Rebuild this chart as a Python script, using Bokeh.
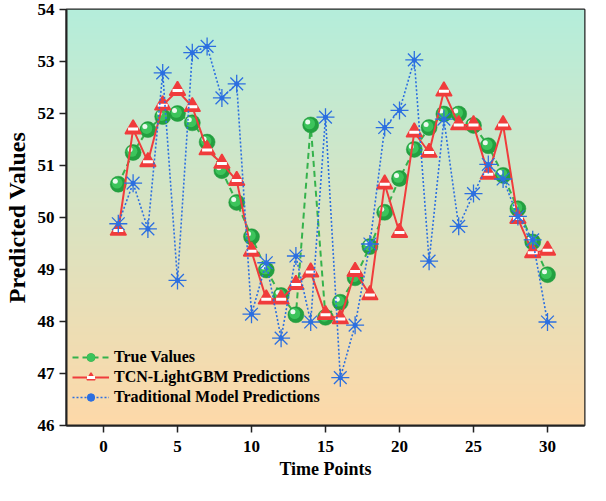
import numpy as np
from bokeh.plotting import figure
from bokeh.models import Range1d, Legend, LegendItem, FixedTicker
from bokeh.embed import file_html
from bokeh.resources import INLINE

# ---------------- data ----------------
time_points = list(range(1, 31))
true_values = [50.64, 51.25, 51.69, 51.94, 52.00, 51.82, 51.45, 50.90, 50.29, 49.63,
               48.99, 48.50, 48.13, 51.78, 48.08, 48.37, 48.84, 49.44, 50.10, 50.75,
               51.31, 51.73, 51.99, 51.99, 51.77, 51.38, 50.81, 50.17, 49.53, 48.90]
tcn_lightgbm = [49.75, 51.70, 51.07, 52.16, 52.44, 52.13, 51.30, 51.04, 50.71, 49.35,
                48.43, 48.43, 48.71, 48.95, 48.13, 48.05, 48.96, 48.51, 50.64, 49.71,
                51.64, 51.25, 52.43, 51.78, 51.78, 50.83, 51.78, 49.98, 49.32, 49.37]
traditional = [49.88, 50.66, 49.78, 52.78, 48.79, 53.17, 53.29, 52.30, 52.57, 48.14,
               49.13, 47.68, 49.26, 47.99, 51.93, 46.92, 47.93, 49.49, 51.73, 52.06,
               53.03, 49.16, 51.89, 49.83, 50.46, 51.02, 50.74, 50.02, 49.57, 47.99]
x_ticks = [0, 5, 10, 15, 20, 25, 30]
y_ticks = [46, 47, 48, 49, 50, 51, 52, 53, 54]

# ---------------- layout ----------------
X0, X1 = -2.5, 32.5
Y0, Y1 = 46, 54
FW, FH = 518, 416
px_x = FW / (X1 - X0)
px_y = FH / (Y1 - Y0)

FONT = "Liberation Serif"

p = figure(frame_width=FW, frame_height=FH,
           x_range=Range1d(X0, X1), y_range=Range1d(Y0, Y1),
           output_backend="svg", toolbar_location=None,
           min_border_left=64, min_border_right=4, min_border_top=9, min_border_bottom=60)

# gradient background
N = 256
img = np.empty((N, 1), dtype=np.uint32)
view = img.view(dtype=np.uint8).reshape((N, 1, 4))
bottom_c = np.array([254, 217, 169])
top_c = np.array([181, 238, 219])
for i in range(N):
    t = i / (N - 1)
    c = bottom_c * (1 - t) + top_c * t
    view[i, 0, 0:3] = c.astype(np.uint8)
    view[i, 0, 3] = 255
p.image_rgba(image=[img], x=X0, y=Y0, dw=X1 - X0, dh=Y1 - Y0)

# True values (green dashed + spheres)
g_line = p.line(time_points, true_values, line_color="#35b24c", line_width=2, line_dash="6 4")
g_base = p.scatter(time_points, true_values, marker="circle", size=16,
                   fill_color="#23a040", line_color="#1f9a3b", line_width=0.5)
g_mid = p.scatter([t - 1.2 / px_x for t in time_points], [v + 1.2 / px_y for v in true_values],
                  marker="circle", size=11, fill_color="#3cc45b", line_color=None)
p.scatter([t - 3.0 / px_x for t in time_points], [v + 3.0 / px_y for v in true_values],
          marker="circle", size=5, fill_color="white", fill_alpha=0.9, line_color=None)

# TCN-LightGBM (red solid + half-filled triangles)
r_line = p.line(time_points, tcn_lightgbm, line_color="#f03c3c", line_width=2)
r_tri = p.scatter(time_points, tcn_lightgbm, marker="triangle", size=16,
                  fill_color="#f03c3c", line_color="#f03c3c", line_width=1.5)
r_band = p.scatter(time_points, tcn_lightgbm, marker="dash", size=10,
                   line_color="white", line_width=3)

# Traditional (blue dotted + asterisks)
b_line = p.line(time_points, traditional, line_color="#2c6fe0", line_width=1.6, line_dash="2 2")
b_ast = p.scatter(time_points, traditional, marker="asterisk", size=18,
                  line_color="#2c6fe0", line_width=1.3)
b_dot = p.scatter(time_points, traditional, marker="circle", size=5,
                  fill_color="#2c6fe0", line_color=None)

# axes
for ax in (p.xaxis[0], p.yaxis[0]):
    ax.major_tick_out = 7
    ax.major_tick_in = 0
    ax.minor_tick_out = 0
    ax.minor_tick_in = 0
    ax.major_tick_line_color = "#222222"
    ax.major_tick_line_width = 1.5
    ax.axis_line_color = "#222222"
    ax.axis_line_width = 2
    ax.major_label_text_font = FONT
    ax.major_label_text_font_style = "bold"
    ax.major_label_text_font_size = "17px"
    ax.major_label_text_color = "black"
    ax.axis_label_text_font = FONT
    ax.axis_label_text_font_style = "bold"
    ax.axis_label_text_color = "black"

p.xaxis.ticker = FixedTicker(ticks=x_ticks)
p.yaxis.ticker = FixedTicker(ticks=y_ticks)
p.xaxis.axis_label = "Time Points"
p.yaxis.axis_label = "Predicted Values"
p.xaxis.axis_label_text_font_size = "18px"
p.yaxis.axis_label_text_font_size = "24px"
p.xaxis.major_label_standoff = 8
p.yaxis.major_label_standoff = 5
p.xaxis.axis_label_standoff = 4
p.yaxis.axis_label_standoff = 5

p.grid.visible = False
p.outline_line_color = "#222222"
p.outline_line_width = 2
p.border_fill_color = "white"

legend = Legend(items=[
    LegendItem(label="True Values", renderers=[g_line, g_base, g_mid]),
    LegendItem(label="TCN-LightGBM Predictions", renderers=[r_line, r_tri, r_band]),
    LegendItem(label="Traditional Model Predictions", renderers=[b_line, b_ast, b_dot]),
], location=(6, 18))
legend.label_text_font = FONT
legend.label_text_font_style = "bold"
legend.label_text_font_size = "16px"
legend.label_text_color = "black"
legend.glyph_width = 37
legend.glyph_height = 20
legend.label_height = 20
legend.label_standoff = 5
legend.spacing = 0
legend.padding = 0
legend.margin = 0
legend.background_fill_alpha = 0
legend.border_line_alpha = 0
p.add_layout(legend)

open("out.html", "w").write(file_html(p, INLINE))
